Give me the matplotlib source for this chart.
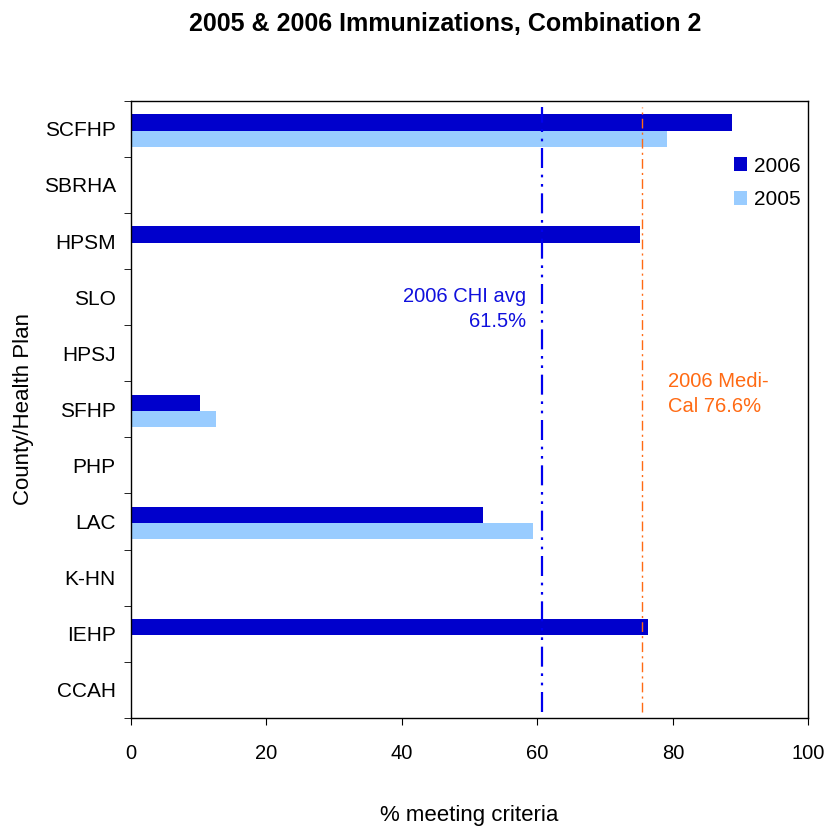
import matplotlib
matplotlib.use('Agg')
import matplotlib.pyplot as plt
import numpy as np

plt.rcParams['font.family'] = ['Liberation Sans', 'DejaVu Sans']

plans = ['SCFHP', 'SBRHA', 'HPSM', 'SLO', 'HPSJ', 'SFHP', 'PHP', 'LAC', 'K-HN', 'IEHP', 'CCAH']
rate_2006 = [88.8, np.nan, 75.2, np.nan, np.nan, 10.2, np.nan, 52.0, np.nan, 76.3, np.nan]
rate_2005 = [79.2, np.nan, np.nan, np.nan, np.nan, 12.6, np.nan, 59.4, np.nan, np.nan, np.nan]
chi_avg = 60.7
medical_avg = 75.5
x_ticks = [0, 20, 40, 60, 80, 100]

dark = '#0000CC'
light = '#99CCFF'

fig = plt.figure(figsize=(8.29, 8.26), dpi=100)
ax = fig.add_axes([0.158, 0.131, 0.817, 0.747])

y = np.arange(len(plans))
h = 0.29
ax.barh(y - h / 2 + 0.03, rate_2006, height=h, color=dark, label='2006')
ax.barh(y + h / 2 + 0.03, rate_2005, height=h, color=light, label='2005')

# reference lines
ax.axvline(chi_avg, ymin=0.01, ymax=0.99, color='#0000EE', lw=1.6,
           linestyle=(0, (9, 3, 1.2, 3, 1.2, 3)))
ax.axvline(medical_avg, ymin=0.01, ymax=0.99, color='#FF6A13', lw=1.0,
           linestyle=(0, (7, 3, 1.5, 3)))

ax.text(58.3, 3.22, '2006 CHI avg\n61.5%', color='#1010DD', fontsize=14.5,
        ha='right', va='center', linespacing=1.4)
ax.text(79.3, 4.72, '2006 Medi-\nCal 76.6%', color='#FF6A13', fontsize=14.5,
        ha='left', va='center', linespacing=1.4)

ax.set_xlim(0, 100)
ax.set_ylim(len(plans) - 0.5, -0.5)
ax.set_xticks(x_ticks)
ax.set_xticklabels([str(t) for t in x_ticks], fontsize=14.5)
ax.set_yticks(y)
ax.set_yticklabels(plans, fontsize=15)
ax.set_yticks(np.arange(len(plans) + 1) - 0.5, minor=True)
ax.tick_params(axis='y', which='major', length=0, pad=11)
ax.tick_params(axis='y', which='minor', length=5, direction='out')
ax.tick_params(axis='x', length=5, direction='out', pad=14)
for s in ax.spines.values():
    s.set_color('black')
    s.set_linewidth(1.0)

ax.set_xlabel('% meeting criteria', fontsize=16, labelpad=30)
ax.set_ylabel('County/Health Plan', fontsize=16, labelpad=7)

leg = ax.legend(loc='upper right', bbox_to_anchor=(1.016, 0.94), frameon=False,
                fontsize=15, handlelength=0.65, handleheight=0.65,
                handletextpad=0.3, labelspacing=0.7)

fig.text(0.537, 0.985, '2005 & 2006 Immunizations, Combination 2', ha='center',
         va='top', fontsize=18, fontweight='bold')

fig.savefig('out.png', dpi=100, facecolor='white')
